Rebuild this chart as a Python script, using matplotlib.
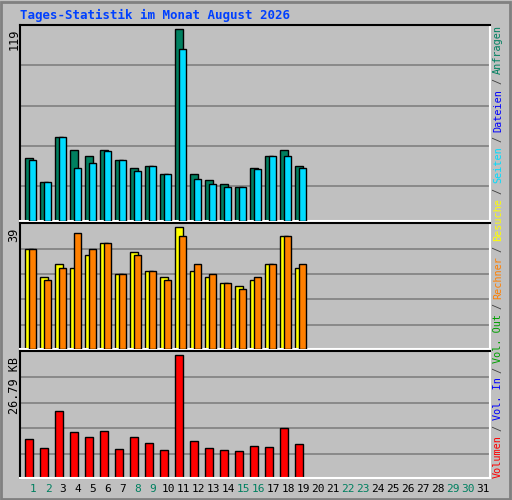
import matplotlib
matplotlib.use("Agg")
import matplotlib.pyplot as plt
from matplotlib.patches import Rectangle

days = list(range(1, 32))
anfragen = [39, 24, 52, 44, 40.5, 44, 38, 33, 34, 29, 119, 29, 25.5, 23, 21, 33, 40.5, 44, 34]
dateien = [38, 24, 52, 33, 36, 43.6, 38, 31, 34, 29, 107, 26, 23, 21, 21, 32.4, 40.5, 40.5, 33]
besuche = [32.2, 23, 27.3, 26, 30.2, 34.1, 24, 31.2, 25, 23, 39, 25, 23, 21.1, 20.1, 22, 27.3, 36.1, 26]
rechner = [32.2, 22, 26, 37.1, 32.2, 34.1, 24, 30.2, 25, 22, 36.1, 27.3, 24, 21.1, 19.1, 23, 27.3, 36.1, 27.3]
volumen_kb = [8.55, 6.53, 14.6, 10.1, 9.0, 10.35, 6.3, 9.0, 7.65, 6.08, 26.79, 8.1, 6.53, 6.08, 5.85, 6.98, 6.75, 11.0, 7.43]
weekend = [1, 2, 8, 9, 15, 16, 22, 23, 29, 30]

W, H = 512, 500
BG = "#c0c0c0"
MONO = "DejaVu Sans Mono"
fig = plt.figure(figsize=(W / 100, H / 100), dpi=100, facecolor=BG)

def ax_at(top, bottom, left=20, right=490):
    return fig.add_axes([left / W, 1 - bottom / H, (right - left) / W, (bottom - top) / H])

def style(ax, ytop, grids):
    ax.set_facecolor(BG)
    ax.set_xlim(0.133, 31.47)
    ax.set_ylim(0, ytop)
    ax.set_xticks([]); ax.set_yticks([])
    for g in grids:
        ax.axhline(g, color="#808080", lw=1.2, zorder=0)
    ax.spines["top"].set_color("black"); ax.spines["left"].set_color("black")
    ax.spines["bottom"].set_color("white"); ax.spines["right"].set_color("white")
    for s in ax.spines.values():
        s.set_linewidth(1.5)

def pair(ax, back, front, cb, cf):
    n = len(back)
    x = days[:n]
    ax.bar([d - 0.51 for d in x], back, width=0.5, align="edge", color=cb, edgecolor="black", lw=1, zorder=2)
    ax.bar([d - 0.27 for d in x], front, width=0.5, align="edge", color=cf, edgecolor="black", lw=1, zorder=3)

ax1 = ax_at(25, 221)
style(ax1, 121.7, [96.6, 71.7, 46.7, 21.8])
pair(ax1, anfragen, dateien, "#008060", "#00dcff")

ax2 = ax_at(223, 349)
style(ax2, 40.4, [32.2, 24, 15.9, 7.7])
pair(ax2, besuche, rechner, "#ffff00", "#ff8000")

ax3 = ax_at(351, 478)
style(ax3, 27.7, [22.06, 16.4, 10.8, 5.18])
ax3.bar([d - 0.51 for d in days[:len(volumen_kb)]], volumen_kb, width=0.5, align="edge",
        color="#ff0000", edgecolor="black", lw=1, zorder=2)

fig.text(14 / W, 1 - 29 / H, "119", rotation=90, ha="center", va="top", family=MONO, fontsize=8.5)
fig.text(14 / W, 1 - 228 / H, "39", rotation=90, ha="center", va="top", family=MONO, fontsize=8.5)
fig.text(14 / W, 1 - 357 / H, "26.79 KB", rotation=90, ha="center", va="top", family=MONO, fontsize=8.5)

fig.text(20 / W, 1 - 15 / H, "Tages-Statistik im Monat August 2026", color="#0040ff",
         family=MONO, fontweight="bold", fontsize=9, va="center", ha="left")

for d in days:
    fig.text((20 + (d - 0.133) * 15) / W, 1 - 489 / H, str(d), ha="center", va="center",
             family=MONO, fontsize=8, color="#008060" if d in weekend else "black")

# right legend, pieces stacked by measured extent
pieces = [("Volumen", "#ff0000"), ("/", "#404040"), ("Vol. In", "#0000ff"), ("/", "#404040"),
          ("Vol. Out", "#00a000"), ("/", "#404040"), ("Rechner", "#ff8000"), ("/", "#404040"),
          ("Besuche", "#ffff00"), ("/", "#404040"), ("Seiten", "#00dcff"), ("/", "#404040"),
          ("Dateien", "#0000ff"), ("/", "#404040"), ("Anfragen", "#008060")]
renderer = fig.canvas.get_renderer()
texts = []
for txt, col in pieces:
    t = fig.text(498 / W, 0, txt, rotation=90, ha="center", va="bottom",
                 family=MONO, fontsize=7.3, color=col)
    texts.append(t)
heights = [t.get_window_extent(renderer).height for t in texts]
gap = ((478 - 25) - sum(heights)) / (len(texts) - 1)
y = 478
for t, h in zip(texts, heights):
    t.set_y(1 - y / H)
    y -= h + gap

fig.add_artist(Rectangle((1 / W, 1 / H), (W - 3) / W, (H - 3) / H, transform=fig.transFigure,
                         fill=False, edgecolor="#808080", lw=2))
fig.savefig("out.png", dpi=100, facecolor=BG)
